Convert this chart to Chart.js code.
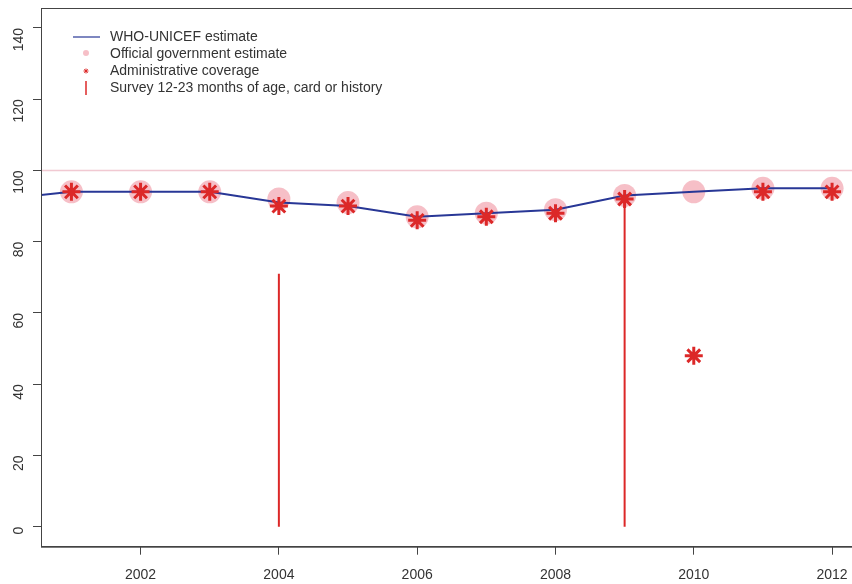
<!DOCTYPE html>
<html>
<head>
<meta charset="utf-8">
<script src="https://cdn.jsdelivr.net/npm/chart.js@4.4.1/dist/chart.umd.min.js"></script>
<style>
  html, body { margin: 0; padding: 0; background: #fff; }
  #wrap { width: 852px; height: 584px; overflow: hidden; position: relative; }
  #graf { position: absolute; left: 0; top: -4px; }
</style>
</head>
<body>
<div id="wrap"><canvas id="graf" width="880" height="589"></canvas></div>
<script>
// dados
const years = [2000, 2001, 2002, 2003, 2004, 2005, 2006, 2007, 2008, 2009, 2010, 2011, 2012];
const whoUnicef = [92, 94, 94, 94, 91, 90, 87, 88, 89, 93, 94, 95, 95];

const govYears = [2001, 2002, 2003, 2004, 2005, 2006, 2007, 2008, 2009, 2010, 2011, 2012];
const govEstimate = [94, 94, 94, 92, 91, 87, 88, 89, 93, 94, 95, 95];

const adminYears = [2001, 2002, 2003, 2004, 2005, 2006, 2007, 2008, 2009, 2010, 2011, 2012];
const adminCoverage = [94, 94, 94, 90, 90, 86, 87, 88, 92, 48, 94, 94];

const surveyYears = [2004, 2009];
const surveyValues = [71, 93];

const xTicks = [2002, 2004, 2006, 2008, 2010, 2012];
const yTicks = [0, 20, 40, 60, 80, 100, 120, 140];
const refLine = 100;

const legendLabels = [
    'WHO-UNICEF estimate',
    'Official government estimate',
    'Administrative coverage',
    'Survey 12-23 months of age, card or history'
];

const xMin = 2000.56, xMax = 2012.44;
const yMin = -5.6, yMax = 145.6;

const blue = 'rgb(40, 55, 150)';
const pink = 'rgba(243, 170, 180, 0.75)';
const red = 'rgb(220, 40, 40)';
const fonte = '"Liberation Sans", Arial, sans-serif';
const dy = 4; // canvas deslocado 4px para cima

function pts(xs, ys) {
    return xs.map((x, i) => ({x: x, y: ys[i]}));
}

// linhas verticais dos inquéritos
const surveySets = surveyYears.map((yr, i) => ({
    type: 'line',
    data: [{x: yr, y: 0}, {x: yr, y: surveyValues[i]}],
    borderColor: red,
    borderWidth: 2,
    pointRadius: 0,
    order: 2
}));

const legendPlugin = {
    id: 'legendaR',
    afterDraw(chart) {
        const ctx = chart.ctx;
        ctx.save();
        ctx.translate(0, dy);
        ctx.font = '14px ' + fonte;
        ctx.fillStyle = '#333';
        ctx.textBaseline = 'middle';
        const rows = [37, 54, 71, 88];
        legendLabels.forEach((t, i) => ctx.fillText(t, 110, rows[i]));
        // símbolos
        ctx.strokeStyle = blue;
        ctx.lineWidth = 1.2;
        ctx.beginPath(); ctx.moveTo(73, 37); ctx.lineTo(100, 37); ctx.stroke();
        ctx.fillStyle = pink;
        ctx.beginPath(); ctx.arc(86, 53, 3, 0, Math.PI * 2); ctx.fill();
        ctx.strokeStyle = red;
        ctx.lineWidth = 1;
        const r = 2.5;
        ctx.beginPath();
        ctx.moveTo(86 - r, 71); ctx.lineTo(86 + r, 71);
        ctx.moveTo(86, 71 - r); ctx.lineTo(86, 71 + r);
        ctx.moveTo(86 - r * 0.7, 71 - r * 0.7); ctx.lineTo(86 + r * 0.7, 71 + r * 0.7);
        ctx.moveTo(86 - r * 0.7, 71 + r * 0.7); ctx.lineTo(86 + r * 0.7, 71 - r * 0.7);
        ctx.stroke();
        ctx.lineWidth = 1.5;
        ctx.beginPath(); ctx.moveTo(86, 81); ctx.lineTo(86, 95); ctx.stroke();
        ctx.restore();
        // caixa do gráfico
        const a = chart.chartArea;
        ctx.save();
        ctx.strokeStyle = '#444';
        ctx.lineWidth = 1;
        ctx.strokeRect(a.left + 0.5, a.top + 0.5, a.right - a.left, a.bottom - a.top);
        ctx.restore();
    }
};

const ctx = document.getElementById('graf').getContext('2d');
new Chart(ctx, {
    type: 'line',
    data: {
        datasets: [
            {
                data: [{x: xMin, y: refLine}, {x: xMax, y: refLine}],
                borderColor: 'rgba(240, 195, 205, 0.9)',
                borderWidth: 1.5,
                pointRadius: 0,
                order: 5
            },
            {
                type: 'scatter',
                data: pts(govYears, govEstimate),
                pointStyle: 'circle',
                pointRadius: 11.5,
                backgroundColor: pink,
                borderWidth: 0,
                order: 4
            },
            {
                data: pts(years, whoUnicef),
                borderColor: blue,
                borderWidth: 2,
                pointRadius: 0,
                tension: 0,
                order: 3
            },
            ...surveySets,
            {
                type: 'scatter',
                data: pts(adminYears, adminCoverage),
                pointStyle: 'star',
                pointRadius: 9,
                borderColor: red,
                borderWidth: 3,
                order: 1
            }
        ]
    },
    options: {
        responsive: false,
        animation: false,
        events: [],
        layout: { padding: { top: 2, right: 17.5, left: 0, bottom: 0 } },
        plugins: { legend: { display: false }, tooltip: { enabled: false } },
        scales: {
            x: {
                type: 'linear',
                min: xMin,
                max: xMax,
                afterBuildTicks: s => { s.ticks = xTicks.map(v => ({value: v})); },
                afterFit: s => { s.height = 38.3; s.paddingLeft = 0; s.paddingRight = 0; },
                grid: { drawOnChartArea: false, drawTicks: true, tickLength: 8, color: '#444', tickWidth: 1 },
                border: { display: true, color: '#444', width: 1 },
                ticks: {
                    color: '#333',
                    padding: 12,
                    maxRotation: 0,
                    font: { family: fonte, size: 14 },
                    callback: v => String(v)
                }
            },
            y: {
                type: 'linear',
                min: yMin,
                max: yMax,
                afterBuildTicks: s => { s.ticks = yTicks.map(v => ({value: v})); },
                afterFit: s => { s.width = 41; s.paddingTop = 0; s.paddingBottom = 0; },
                grid: { drawOnChartArea: false, drawTicks: true, tickLength: 8, color: '#444', tickWidth: 1 },
                border: { display: true, color: '#444', width: 1 },
                ticks: {
                    color: '#333',
                    padding: 14,
                    minRotation: 90,
                    maxRotation: 90,
                    font: { family: fonte, size: 14 },
                    callback: v => String(v)
                }
            }
        }
    },
    plugins: [legendPlugin]
});
</script>
</body>
</html>
